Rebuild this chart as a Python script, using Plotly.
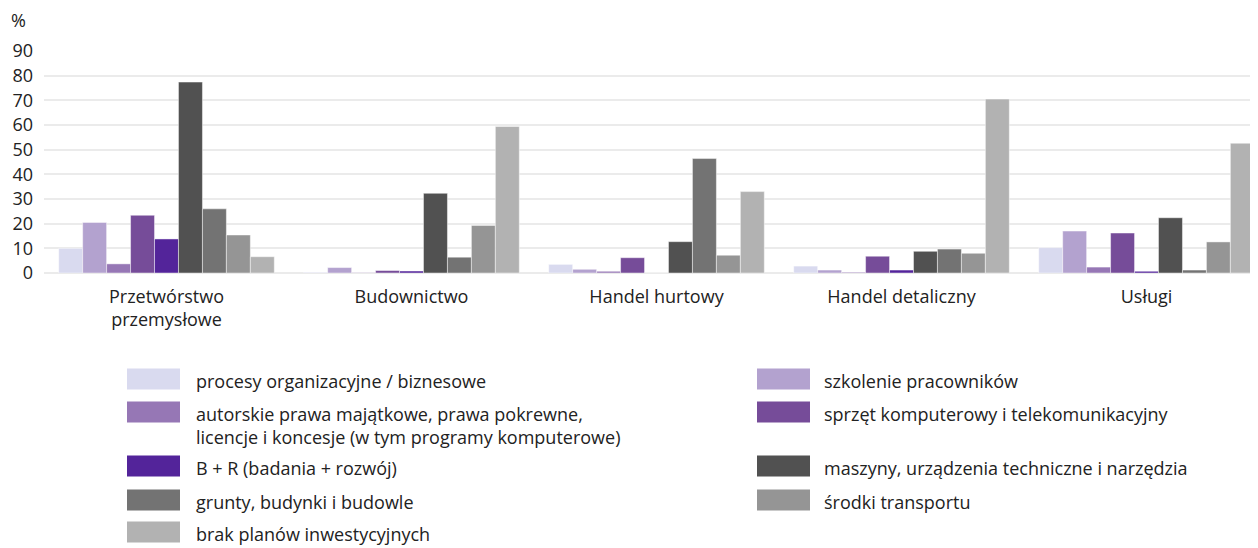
import plotly.graph_objects as go

categories = ["Przetwórstwo<br>przemysłowe", "Budownictwo", "Handel hurtowy", "Handel detaliczny", "Usługi"]

series_names = [
    "procesy organizacyjne / biznesowe",
    "szkolenie pracowników",
    "autorskie prawa majątkowe, prawa pokrewne,<br>licencje i koncesje (w tym programy komputerowe)",
    "sprzęt komputerowy i telekomunikacyjny",
    "B + R (badania + rozwój)",
    "maszyny, urządzenia techniczne i narzędzia",
    "grunty, budynki i budowle",
    "środki transportu",
    "brak planów inwestycyjnych",
]

procesy = [10.0, 0.3, 3.5, 2.8, 10.3]
szkolenie = [20.5, 2.2, 1.5, 1.2, 17.0]
autorskie = [3.7, 0.1, 0.7, 0.3, 2.4]
sprzet = [23.4, 1.0, 6.2, 6.8, 16.2]
bir = [13.8, 0.8, 0.0, 1.2, 0.7]
maszyny = [77.4, 32.3, 12.7, 8.8, 22.4]
grunty = [26.0, 6.4, 46.4, 9.7, 1.2]
srodki = [15.4, 19.3, 7.2, 8.0, 12.6]
brak = [6.6, 59.4, 33.0, 70.5, 52.6]

values = [procesy, szkolenie, autorskie, sprzet, bir, maszyny, grunty, srodki, brak]
colors = ["#d9daef", "#b3a2cf", "#9677b5", "#764c99", "#53249a",
          "#515151", "#737373", "#959595", "#b2b2b2"]

y_ticks = [0, 10, 20, 30, 40, 50, 60, 70, 80, 90]

FONT = "Open Sans"
FS = 18
OFF = 8  # default page body margin
W, H = 1258 - OFF, 548 - OFF
# target page-pixel positions of the plot area
P_LEFT, P_RIGHT, P_TOP, P_BOTTOM = 44, 1258, 51, 273
ML = P_LEFT - OFF
MR = W - (P_RIGHT - OFF)
MT = P_TOP - OFF
MB = H - (P_BOTTOM - OFF)
PW, PH = W - ML - MR, H - MT - MB

fig = go.Figure()
for name, vals, col in zip(series_names, values, colors):
    fig.add_trace(go.Bar(
        x=list(range(len(categories))), y=vals, name=name,
        marker=dict(color=col, line=dict(color="rgba(255,255,255,0.45)", width=1)),
        showlegend=False,
    ))

def px_x(x):
    # page pixel -> paper
    return (x - P_LEFT) / PW

def px_y(y):
    return (P_BOTTOM - y) / PH

# manual two-column legend (row-major order as in reference)
left_rows = [379, 412, 466, 500, 532]
right_rows = [379, 412, 466, 500]
positions = []
li = ri = 0
for i in range(len(series_names)):
    if i % 2 == 0:
        positions.append((127, 194, left_rows[li])); li += 1
    else:
        positions.append((757, 822, right_rows[ri])); ri += 1

shapes = []
annotations = []
for name, col, (sx, tx, cy) in zip(series_names, colors, positions):
    shapes.append(dict(type="rect", xref="paper", yref="paper",
                       x0=px_x(sx), x1=px_x(sx + 53), y0=px_y(cy + 10.5), y1=px_y(cy - 10.5),
                       fillcolor=col, line=dict(width=0)))
    annotations.append(dict(xref="paper", yref="paper", x=px_x(tx), y=px_y(cy - 12),
                            text=name, showarrow=False, xanchor="left", yanchor="top",
                            align="left", font=dict(size=FS, color="#222", family=FONT)))

annotations.append(dict(xref="paper", yref="paper", x=px_x(9), y=px_y(20),
                        text="%", showarrow=False, xanchor="left", yanchor="middle",
                        font=dict(size=FS, color="#222", family=FONT)))

fig.update_layout(
    width=W, height=H,
    margin=dict(l=ML, r=MR, t=MT, b=MB),
    barmode="group", bargap=0.12, bargroupgap=0,
    plot_bgcolor="white", paper_bgcolor="white",
    font=dict(family=FONT, size=FS, color="#222"),
    shapes=shapes, annotations=annotations,
    xaxis=dict(tickmode="array", tickvals=list(range(len(categories))), ticktext=categories,
               range=[-0.5, 4.455], showgrid=False, showline=False, ticks="",
               tickfont=dict(size=FS, color="#222"), ticklabelstandoff=11, fixedrange=True),
    yaxis=dict(range=[0, 90], tickvals=y_ticks, showgrid=True, gridcolor="#ebebeb",
               gridwidth=1.5, zeroline=True, zerolinecolor="#ebebeb", zerolinewidth=1.5,
               showline=False, ticks="", tickfont=dict(size=FS, color="#222"),
               ticklabelstandoff=10, fixedrange=True),
)

fig.write_html("out.html", config={"displayModeBar": False})
